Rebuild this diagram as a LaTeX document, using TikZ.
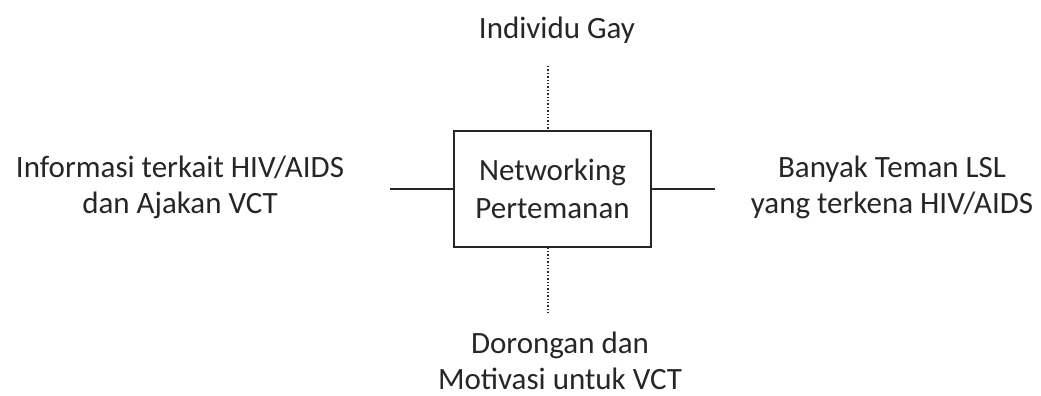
\documentclass[tikz,border=0pt]{standalone}
\usepackage{fontspec}
\setmainfont{Carlito}
\usetikzlibrary{positioning}
\definecolor{ink}{HTML}{262626}
\tikzset{
  lab/.style={font=\fontsize{31}{36}\selectfont, text=ink, align=center, inner sep=0pt},
  boxed/.style={draw=ink, line width=1.2pt, minimum width=197pt, minimum height=116pt,
    font=\fontsize{31}{38}\selectfont, text=ink, align=center},
  link/.style={draw=ink, line width=1.2pt},
  dots/.style={draw=ink, line width=1.4pt, dash pattern=on 1.4pt off 2pt},
}
\begin{document}
\begin{tikzpicture}[x=1pt,y=-1pt]
\useasboundingbox (0,0) rectangle (1041,396);
% central box
\node[boxed] (net) at (552.5,189) {Networking\\Pertemanan};
% texts round it
\node[lab] (gay) at (557,30) {Individu Gay};
\node[lab] (info) at (180,187) {Informasi terkait HIV/AIDS\\dan Ajakan VCT};
\node[lab] (teman) at (892,187) {Banyak Teman LSL\\yang terkena HIV/AIDS};
\node[lab] (dorong) at (560,361) {Dorongan dan\\Motivasi untuk VCT};
% free ends of the links
\coordinate (tope) at (548,66);
\coordinate (bote) at (548,313);
\coordinate (lefte) at (390,189);
\coordinate (righte) at (715,189);
% links
\draw[dots] (tope) -- (tope |- net.north);
\draw[dots] (tope |- net.south) -- (bote);
\draw[link] (lefte) -- (net.west);
\draw[link] (net.east) -- (righte);
\end{tikzpicture}
\end{document}
